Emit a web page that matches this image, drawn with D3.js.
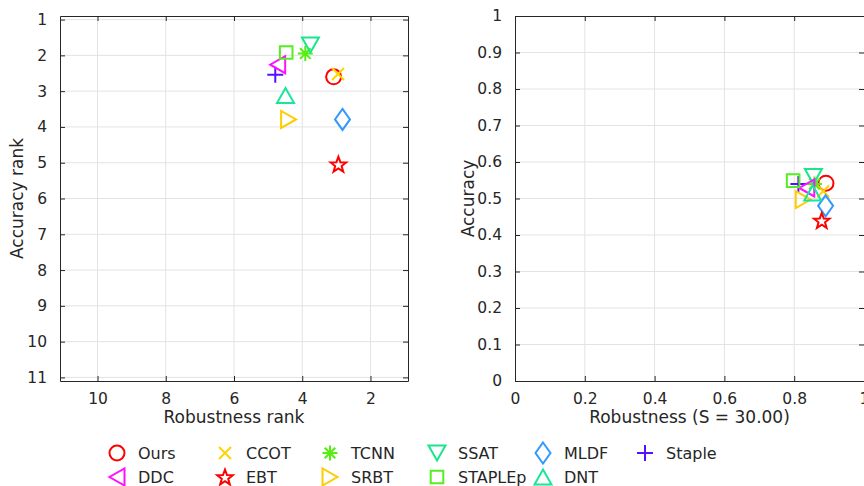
<!DOCTYPE html>
<html><head><meta charset="utf-8">
<script src="https://cdn.jsdelivr.net/npm/d3@7/dist/d3.min.js"></script>
<style>
html,body{margin:0;padding:0;background:#fff;}
svg{display:block;font-family:"DejaVu Sans",sans-serif;}
</style></head>
<body><svg id="c" width="864" height="486"></svg>
<script>
// ---- data ----
const trackers = ["Ours","CCOT","TCNN","SSAT","MLDF","Staple","DDC","EBT","SRBT","STAPLEp","DNT"];
const markers  = ["circle","x","asterisk","triDown","diamond","plus","triLeft","star","triRight","square","triUp"];
const colors   = ["#ff0000","#ffd400","#55ee11","#19e68c","#3399ff","#5511ff","#ff11ff","#ff0000","#ffcc00","#55ee22","#19e69a"];
// rank plot
const robustnessRank = [3.08, 2.95, 3.91, 3.76, 2.82, 4.79, 4.72, 2.94, 4.40, 4.47, 4.49];
const accuracyRank   = [2.60, 2.52, 1.95, 1.71, 3.79, 2.54, 2.26, 5.04, 3.79, 1.92, 3.12];
// raw plot
const robustness = [0.891, 0.883, 0.858, 0.855, 0.890, 0.812, 0.836, 0.879, 0.826, 0.797, 0.853];
const accuracy   = [0.542, 0.520, 0.540, 0.560, 0.480, 0.540, 0.529, 0.440, 0.497, 0.549, 0.515];
// ticks
const rankXTicks = [10, 8, 6, 4, 2];
const rankYTicks = [1,2,3,4,5,6,7,8,9,10,11];
const rawXTicks  = [0, 0.2, 0.4, 0.6, 0.8, 1];
const rawYTicks  = [0,0.1,0.2,0.3,0.4,0.5,0.6,0.7,0.8,0.9,1];
const legendCols = [117, 225, 330, 437, 543, 645];

const svg = d3.select("#c");
svg.append("rect").attr("width",864).attr("height",486).attr("fill","#fff");

function markerPath(type){
  const p = d3.path();
  switch(type){
    case "circle": p.arc(0,0,7.5,0,2*Math.PI); break;
    case "x": p.moveTo(-6,-6);p.lineTo(6,6);p.moveTo(-6,6);p.lineTo(6,-6); break;
    case "plus": p.moveTo(-8,0);p.lineTo(8,0);p.moveTo(0,-8);p.lineTo(0,8); break;
    case "asterisk": p.moveTo(-7.5,0);p.lineTo(7.5,0);p.moveTo(0,-7.5);p.lineTo(0,7.5);
      p.moveTo(-5.3,-5.3);p.lineTo(5.3,5.3);p.moveTo(-5.3,5.3);p.lineTo(5.3,-5.3); break;
    case "square": p.rect(-6.3,-6.3,12.6,12.6); break;
    case "diamond": p.moveTo(0,-10.5);p.lineTo(7.5,0);p.lineTo(0,10.5);p.lineTo(-7.5,0);p.closePath(); break;
    case "triDown": p.moveTo(-8.5,-7.5);p.lineTo(8.5,-7.5);p.lineTo(0,7.5);p.closePath(); break;
    case "triUp": p.moveTo(-8.5,7.5);p.lineTo(8.5,7.5);p.lineTo(0,-7.5);p.closePath(); break;
    case "triLeft": p.moveTo(7.5,-8.5);p.lineTo(7.5,8.5);p.lineTo(-7.5,0);p.closePath(); break;
    case "triRight": p.moveTo(-7.5,-8.5);p.lineTo(-7.5,8.5);p.lineTo(7.5,0);p.closePath(); break;
    case "star": {
      const R=8.2, r=3.4;
      for(let i=0;i<10;i++){
        const a = -Math.PI/2 + i*Math.PI/5, rr = i%2? r:R;
        const x = rr*Math.cos(a), y = rr*Math.sin(a)+0.8;
        if(i===0)p.moveTo(x,y);else p.lineTo(x,y);
      }
      p.closePath(); break;
    }
  }
  return p.toString();
}

function drawMarker(g, i, x, y){
  g.append("path").attr("d", markerPath(markers[i]))
    .attr("transform",`translate(${x},${y})`)
    .attr("fill","none").attr("stroke",colors[i]).attr("stroke-width",2)
    .attr("stroke-linejoin","miter");
}

function panel(opts){
  const {x, y, xTicks, yTicks, xFmt, yFmt, xLabel, yLabel, xs, ys, yLabelX} = opts;
  const [l,r] = x.range(), [b,t] = y.range();
  const g = svg.append("g");
  // grid
  g.selectAll(".gx").data(xTicks.filter(v=>Math.abs(x(v)-l)>1&&Math.abs(x(v)-r)>1)).join("line")
    .attr("x1",d=>x(d)).attr("x2",d=>x(d)).attr("y1",t).attr("y2",b)
    .attr("stroke","#e3e3e3").attr("stroke-width",1);
  g.selectAll(".gy").data(yTicks.filter(v=>Math.abs(y(v)-t)>1&&Math.abs(y(v)-b)>1)).join("line")
    .attr("x1",l).attr("x2",r).attr("y1",d=>y(d)).attr("y2",d=>y(d))
    .attr("stroke","#e3e3e3").attr("stroke-width",1);
  // axes with inward ticks
  const ax = g.append("g").attr("transform",`translate(0,${b})`)
    .call(d3.axisBottom(x).tickValues(xTicks).tickSizeInner(-5).tickSizeOuter(0).tickPadding(12).tickFormat(xFmt));
  const ay = g.append("g").attr("transform",`translate(${l},0)`)
    .call(d3.axisLeft(y).tickValues(yTicks).tickSizeInner(-5).tickSizeOuter(0).tickPadding(13).tickFormat(yFmt));
  const axT = g.append("g").attr("transform",`translate(0,${t})`)
    .call(d3.axisTop(x).tickValues(xTicks).tickSizeInner(-5).tickSizeOuter(0).tickFormat(""));
  const ayR = g.append("g").attr("transform",`translate(${r},0)`)
    .call(d3.axisRight(y).tickValues(yTicks).tickSizeInner(-5).tickSizeOuter(0).tickFormat(""));
  [ax,ay,axT,ayR].forEach(a=>{
    a.select(".domain").attr("stroke","#262626").attr("stroke-width",1);
    a.selectAll(".tick line").attr("stroke","#262626");
    a.selectAll(".tick text").attr("fill","#262626").style("font-size","15.5px").style("font-family","DejaVu Sans");
  });
  ax.selectAll(".tick text").attr("dy","0.71em");
  // labels
  g.append("text").attr("x",(l+r)/2).attr("y",b+42).attr("text-anchor","middle")
    .attr("fill","#262626").style("font-size","17px").text(xLabel);
  g.append("text").attr("transform",`translate(${yLabelX},${(t+b)/2}) rotate(-90)`)
    .attr("text-anchor","middle").attr("fill","#262626").style("font-size","17px").text(yLabel);
  // markers
  const mg = g.append("g");
  trackers.forEach((n,i)=>drawMarker(mg, i, x(xs[i]), y(ys[i])));
}

panel({
  x: d3.scaleLinear().domain([11.1,0.9]).range([60,408]),
  y: d3.scaleLinear().domain([11.1,0.9]).range([381,16]),
  xTicks: rankXTicks, yTicks: rankYTicks,
  xFmt: d3.format("d"), yFmt: d3.format("d"),
  xLabel: "Robustness rank", yLabel: "Accuracy rank",
  xs: robustnessRank, ys: accuracyRank, yLabelX: 23
});
panel({
  x: d3.scaleLinear().domain([0,1]).range([515,864]),
  y: d3.scaleLinear().domain([0,1]).range([381,16]),
  xTicks: rawXTicks, yTicks: rawYTicks,
  xFmt: d => d===0||d===1 ? String(d) : d3.format(".1f")(d),
  yFmt: d => d===0||d===1 ? String(d) : d3.format(".1f")(d),
  xLabel: "Robustness (S = 30.00)", yLabel: "Accuracy",
  xs: robustness, ys: accuracy, yLabelX: 474
});

// legend
const lg = svg.append("g");
trackers.forEach((n,i)=>{
  const col = i%6, row = Math.floor(i/6);
  const cx = legendCols[col], cy = 453 + row*24;
  drawMarker(lg, i, cx, cy);
  lg.append("text").attr("x",cx+21).attr("y",cy).attr("dy","0.36em")
    .attr("fill","#262626").style("font-size","16px").text(n);
});
</script></body></html>
